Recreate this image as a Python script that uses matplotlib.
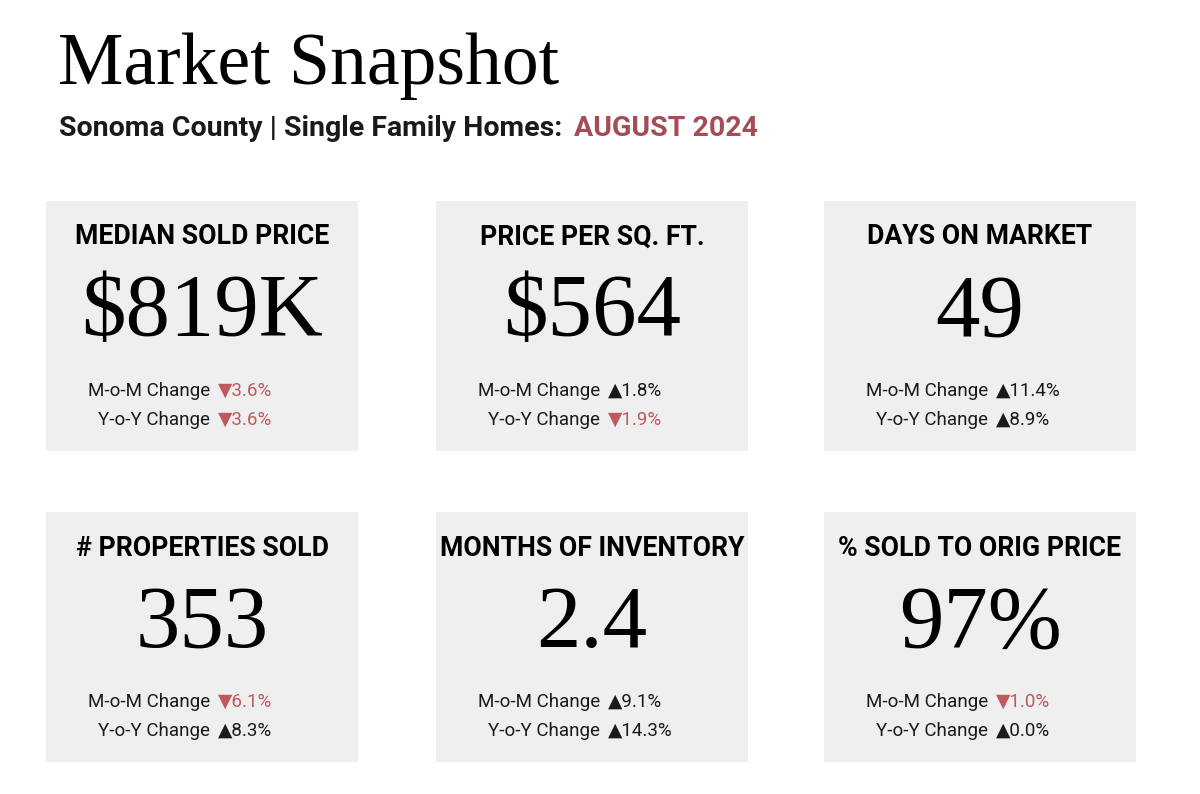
import matplotlib
matplotlib.use('Agg')
import matplotlib.pyplot as plt
from matplotlib.patches import Rectangle

# Data
METRICS = ['MEDIAN SOLD PRICE', 'PRICE PER SQ. FT.', 'DAYS ON MARKET',
           '# PROPERTIES SOLD', 'MONTHS OF INVENTORY', '% SOLD TO ORIG PRICE']
VALUES = ['$819K', '$564', '49', '353', '2.4', '97%']
MOM_CHANGE = [-3.6, 1.8, 11.4, -6.1, 9.1, -1.0]
YOY_CHANGE = [-3.6, -1.9, 8.9, 8.3, 14.3, 0.0]

TITLE = 'Market Snapshot'
SUBTITLE = 'Sonoma County | Single Family Homes:'
PERIOD = 'AUGUST 2024'

# Styling
CARD_BG = '#efefef'
RED_TITLE = '#a44d56'
RED_DOWN = '#c0585f'
DARK = '#1a1a1a'
SERIF = ['Liberation Serif', 'DejaVu Serif']
SANS = ['Roboto', 'DejaVu Sans']

W, H = 1200, 794
fig = plt.figure(figsize=(12, 7.94), dpi=100, facecolor='white')
ax = fig.add_axes([0, 0, 1, 1])
ax.set_xlim(0, W)
ax.set_ylim(H, 0)
ax.axis('off')

# Header
ax.text(58, 66, TITLE, fontsize=53, family=SERIF, color='black',
        ha='left', va='center')
sub = ax.text(59, 129, SUBTITLE, fontsize=20.5, family=SANS, weight='bold',
              color=DARK, ha='left', va='center')
fig.canvas.draw()
bb = sub.get_window_extent()
x_end = bb.x1 / fig.dpi * 100
ax.text(x_end + 12, 129, PERIOD, fontsize=20.5, family=SANS, weight='bold',
        color=RED_TITLE, ha='left', va='center')

# Cards
col_x = [46, 436, 824]
row_y = [201, 512]
card_w, card_h = 312, 250


def fmt_change(v):
    if v < 0:
        return '\u25BC' + f'{abs(v):.1f}%', RED_DOWN
    return '\u25B2' + f'{v:.1f}%', DARK


for i, (metric, value) in enumerate(zip(METRICS, VALUES)):
    x0 = col_x[i % 3]
    y0 = row_y[i // 3]
    cx = x0 + card_w / 2
    ax.add_patch(Rectangle((x0, y0), card_w, card_h, facecolor=CARD_BG,
                           edgecolor='none', zorder=0))
    ax.text(cx, y0 + 36, metric, fontsize=19.2, family=SANS, weight='bold',
            color='black', ha='center', va='center')
    ax.text(cx, y0 + 113, value, fontsize=64, family=SERIF,
            color='black', ha='center', va='center')
    for k, (lab, ch) in enumerate([('M-o-M Change', MOM_CHANGE[i]),
                                   ('Y-o-Y Change', YOY_CHANGE[i])]):
        yy = y0 + 190 + k * 29
        ax.text(cx + 8, yy, lab, fontsize=13.5, family=SANS, color=DARK,
                ha='right', va='center')
        txt, col = fmt_change(ch)
        ax.text(cx + 16, yy, txt, fontsize=13.5, family=SANS, color=col,
                ha='left', va='center')

fig.savefig('out.png', dpi=100, facecolor='white')
